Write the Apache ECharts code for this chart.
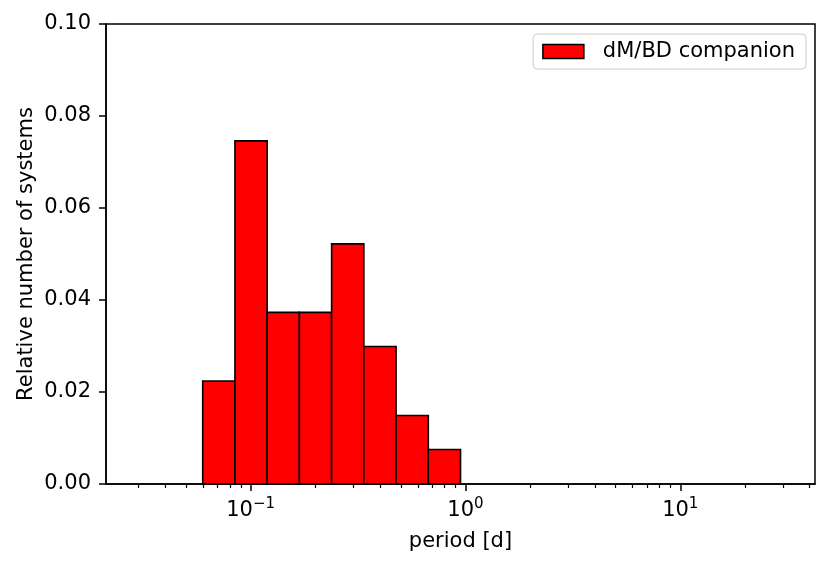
<!DOCTYPE html>
<html><head><meta charset="utf-8">
<script src="https://cdn.jsdelivr.net/npm/echarts@6/dist/echarts.min.js"></script>
<style>html,body{margin:0;padding:0;background:#fff}#c{width:831px;height:566px}</style>
</head><body><div id="c"></div>
<script>
// Histogram bin edges (period, days), log-spaced
const binEdges = [0.03, 0.042376, 0.059858, 0.084552, 0.119433, 0.168704, 0.238301, 0.336610,
  0.475476, 0.671634, 0.948717, 1.340110, 1.892966, 2.673895, 3.776999, 5.335178, 7.536164,
  10.645179, 15.036825, 21.240169, 30.0];
// Relative number of systems per bin
const binValues = [0, 0, 0.0224, 0.0746, 0.0373, 0.0373, 0.0522, 0.0299, 0.0149, 0.0075,
  0, 0, 0, 0, 0, 0, 0, 0, 0, 0];
const seriesName = 'dM/BD companion';
const xMajorTicks = [0.1, 1, 10];
const xMinorTicks = [0.03, 0.04, 0.05, 0.06, 0.07, 0.08, 0.09,
  0.2, 0.3, 0.4, 0.5, 0.6, 0.7, 0.8, 0.9,
  2, 3, 4, 5, 6, 7, 8, 9, 20, 30, 40];
const xMin = 0.02123, xMax = 42.38;
const yMin = 0, yMax = 0.10, yStep = 0.02;

const FONT = 'DejaVu Sans';
const FS = 21;
const barData = binValues.map((v, i) => [binEdges[i], binEdges[i + 1], v]);

const chart = echarts.init(document.getElementById('c'), null, {renderer: 'canvas'});
chart.setOption({
  animation: false,
  backgroundColor: '#ffffff',
  textStyle: {fontFamily: FONT},
  grid: {left: 106, right: 16, top: 24, bottom: 82, show: true, borderColor: '#000', borderWidth: 1.5, backgroundColor: 'transparent'},
  legend: {
    data: [{name: seriesName, icon: 'rect'}],
    right: 25, top: 34,
    itemWidth: 41, itemHeight: 14,
    padding: [7, 11, 7, 9],
    borderColor: '#cccccc', borderWidth: 1, borderRadius: 4,
    backgroundColor: 'rgba(255,255,255,0.8)',
    itemStyle: {color: '#ff0000', borderColor: '#000', borderWidth: 1.5},
    textStyle: {fontSize: FS, color: '#000', fontFamily: FONT, padding: [0, 0, 0, 14]},
    selectedMode: false
  },
  xAxis: [{
    type: 'log', logBase: 10, min: xMin, max: xMax, position: 'bottom',
    name: 'period [d]', nameLocation: 'middle', nameGap: 47, nameMoveOverlap: false,
    nameTextStyle: {fontSize: FS, color: '#000', fontFamily: FONT},
    axisLine: {show: true, lineStyle: {color: '#000', width: 1.5}},
    axisTick: {show: true, length: 7, inside: false, customValues: xMajorTicks, lineStyle: {color: '#000', width: 1.5}},
    axisLabel: {
      show: true, customValues: xMajorTicks, margin: 13, color: '#000',
      formatter: v => {
        const e = Math.round(Math.log10(v));
        return '{b|10}{s|' + (e < 0 ? '\u2212' + (-e) : e) + '}';
      },
      rich: {
        b: {fontSize: FS, fontFamily: FONT, color: '#000', verticalAlign: 'bottom', lineHeight: 24},
        s: {fontSize: 15, fontFamily: FONT, color: '#000', verticalAlign: 'top', lineHeight: 24, padding: [0, 0, 10, 0]}
      }
    },
    splitLine: {show: false}
  }, {
    type: 'log', logBase: 10, min: xMin, max: xMax, position: 'bottom', gridIndex: 0,
    axisLine: {show: false},
    axisTick: {show: true, length: 4, inside: false, customValues: xMinorTicks, lineStyle: {color: '#000', width: 1.2}},
    axisLabel: {show: false},
    splitLine: {show: false}
  }],
  yAxis: {
    type: 'value', min: yMin, max: yMax, interval: yStep,
    name: 'Relative number of systems', nameLocation: 'middle', nameGap: 69, nameMoveOverlap: false,
    nameTextStyle: {fontSize: FS, color: '#000', fontFamily: FONT},
    axisLine: {show: true, lineStyle: {color: '#000', width: 1.5}},
    axisTick: {show: true, length: 7, inside: false, lineStyle: {color: '#000', width: 1.5}},
    axisLabel: {fontSize: FS, color: '#000', margin: 15, fontFamily: FONT, formatter: v => v.toFixed(2)},
    splitLine: {show: false}
  },
  series: [{
    type: 'custom', name: seriesName, xAxisIndex: 0, yAxisIndex: 0,
    data: barData,
    encode: {x: [0, 1], y: 2},
    itemStyle: {color: '#ff0000', borderColor: '#000', borderWidth: 1.5},
    renderItem: (params, api) => {
      const h = api.value(2);
      if (!h) return null;
      const p0 = api.coord([api.value(0), 0]);
      const p1 = api.coord([api.value(1), h]);
      return {
        type: 'rect',
        shape: {x: p0[0], y: p1[1], width: p1[0] - p0[0], height: p0[1] - p1[1]},
        style: {fill: '#ff0000', stroke: '#000', lineWidth: 1.6}
      };
    }
  }]
});
</script></body></html>
